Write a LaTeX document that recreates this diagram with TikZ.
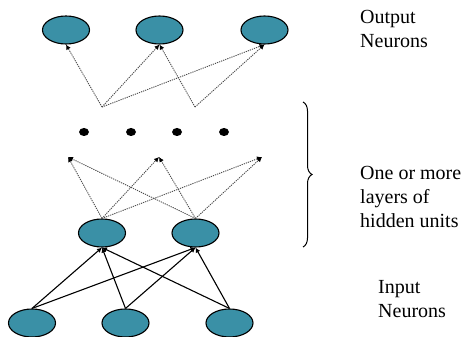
\documentclass[tikz,border=0pt]{standalone}
\usepackage{fontspec}
\setmainfont{Liberation Serif}
\usetikzlibrary{arrows.meta,decorations.pathreplacing,shapes.geometric}
\definecolor{neuron}{RGB}{58,144,166}
\tikzset{
  neuronnode/.style={ellipse,draw=black,line width=1.1pt,fill=neuron,minimum width=47pt,minimum height=28pt,inner sep=0pt},
  dotnode/.style={ellipse,fill=black,minimum width=10pt,minimum height=8pt,inner sep=0pt},
  dottedarrow/.style={draw=black!70,line width=0.9pt,dash pattern=on 1.2pt off 1pt,-{Latex[length=5pt,width=5pt,black]}},
  solidarrow/.style={draw=black,line width=1.1pt,-{Latex[length=5pt,width=5pt]}},
  labeltext/.style={font=\fontsize{20}{24}\selectfont,align=left,inner sep=0pt,anchor=base west}
}
\begin{document}
\begin{tikzpicture}[x=1pt,y=-1pt]
\useasboundingbox (0,0) rectangle (464,337);
% output neurons
\node[neuronnode] (o1) at (66,30) {};
\node[neuronnode] (o2) at (159.5,30) {};
\node[neuronnode] (o3) at (264.5,30) {};
% free ends
\coordinate (d1) at (102,107);
\coordinate (d2) at (195,107);
\coordinate (t1) at (68,157);
\coordinate (t2) at (159,157);
\coordinate (t3) at (262,157);
% dots
\node[dotnode] (k1) at (84,132) {};
\node[dotnode] (k2) at (131,132) {};
\node[dotnode] (k3) at (177,132) {};
\node[dotnode] (k4) at (224,132) {};
% hidden
\node[neuronnode] (h1) at (102,233) {};
\node[neuronnode] (h2) at (195.5,233) {};
% input
\node[neuronnode] (i1) at (32,323) {};
\node[neuronnode] (i2) at (125.5,323) {};
\node[neuronnode] (i3) at (229.5,323) {};
% dotted arrows to outputs
\draw[dottedarrow] (d1) -- (o1.south);
\draw[dottedarrow] (d1) -- (o2.south);
\draw[dottedarrow] (d1) -- (o3.south);
\draw[dottedarrow] (d2) -- (o2.south);
\draw[dottedarrow] (d2) -- (o3.south);
% dotted arrows from hidden
\foreach \h in {h1,h2}{
  \foreach \t in {t1,t2,t3}{
    \draw[dottedarrow] (\h.north) -- (\t);
  }
}
% solid arrows from inputs
\foreach \i in {i1,i2,i3}{
  \foreach \h in {h1,h2}{
    \draw[solidarrow] (\i.north) -- (\h.south);
  }
}
% brace
\coordinate (b1) at (303,102);
\coordinate (b2) at (303,247);
\draw[line width=1pt,decorate,decoration={brace,amplitude=9pt}] (b1) -- (b2);
% labels (base anchor = last line baseline)
\node[labeltext] (lo) at (360,48) {Output\\Neurons};
\node[labeltext] (lh) at (360,227) {One or more\\layers of\\hidden units};
\node[labeltext] (li) at (378,317) {Input\\Neurons};
\end{tikzpicture}
\end{document}
